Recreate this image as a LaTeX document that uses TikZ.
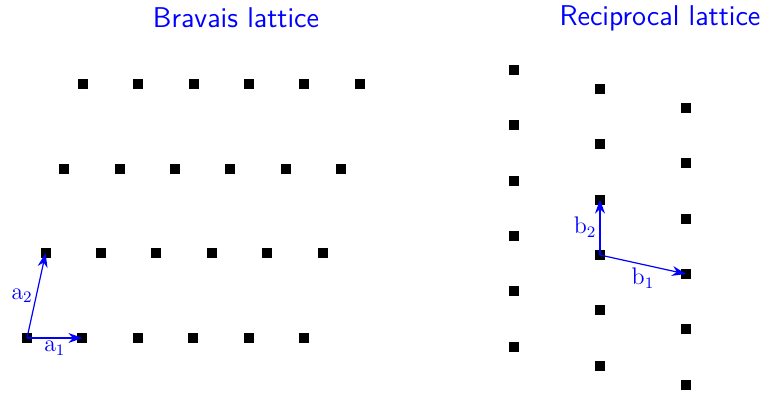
\documentclass[tikz,border=0pt]{standalone}
\usepackage{amsmath}
\usepackage{tikz}
\usetikzlibrary{arrows.meta,positioning,calc}
\tikzset{
  site/.style ={rectangle,fill=black,minimum size=5pt,inner sep=0pt},
  vec/.style  ={-{Stealth[length=7pt,width=5pt]},blue,semithick},
  vlbl/.style ={text=blue,font=\fontsize{12}{14}\selectfont,inner sep=1.5pt},
  ttl/.style  ={text=blue,font=\fontsize{14.3}{17}\selectfont\sffamily},
}
\begin{document}
\begin{tikzpicture}[x=0.5pt,y=-0.5pt]
  \useasboundingbox (0,0) rectangle (764,412);
  % titles
  \node[ttl] (tb) at (236,18) {Bravais lattice};
  \node[ttl] (tr) at (660,18) {Reciprocal lattice};
  % Bravais lattice sites
  \foreach \i in {0,...,5}
    \foreach \j in {0,...,3}
      \node[site] (B-\i-\j) at ($(27,338)+\i*(55.4,0)+\j*(18.6,-84.7)$) {};
  % reciprocal lattice sites
  \foreach \i in {-1,0,1}
    \foreach \j in {-2,...,3}
      \node[site] (R-\i-\j) at ($(600,255)+\i*(86,19)+\j*(0,-55.4)$) {};
  % primitive vectors
  \draw[vec] (B-0-0.center) -- node[vlbl,below]{$\mathrm{a}_1$} (B-1-0.center);
  \draw[vec] (B-0-0.center) -- node[vlbl,left]{$\mathrm{a}_2$} (B-0-1.center);
  \draw[vec] (R-0-0.center) -- node[vlbl,below]{$\mathrm{b}_1$} (R-1-0.center);
  \draw[vec] (R-0-0.center) -- node[vlbl,left]{$\mathrm{b}_2$} (R-0-1.center);
\end{tikzpicture}
\end{document}
